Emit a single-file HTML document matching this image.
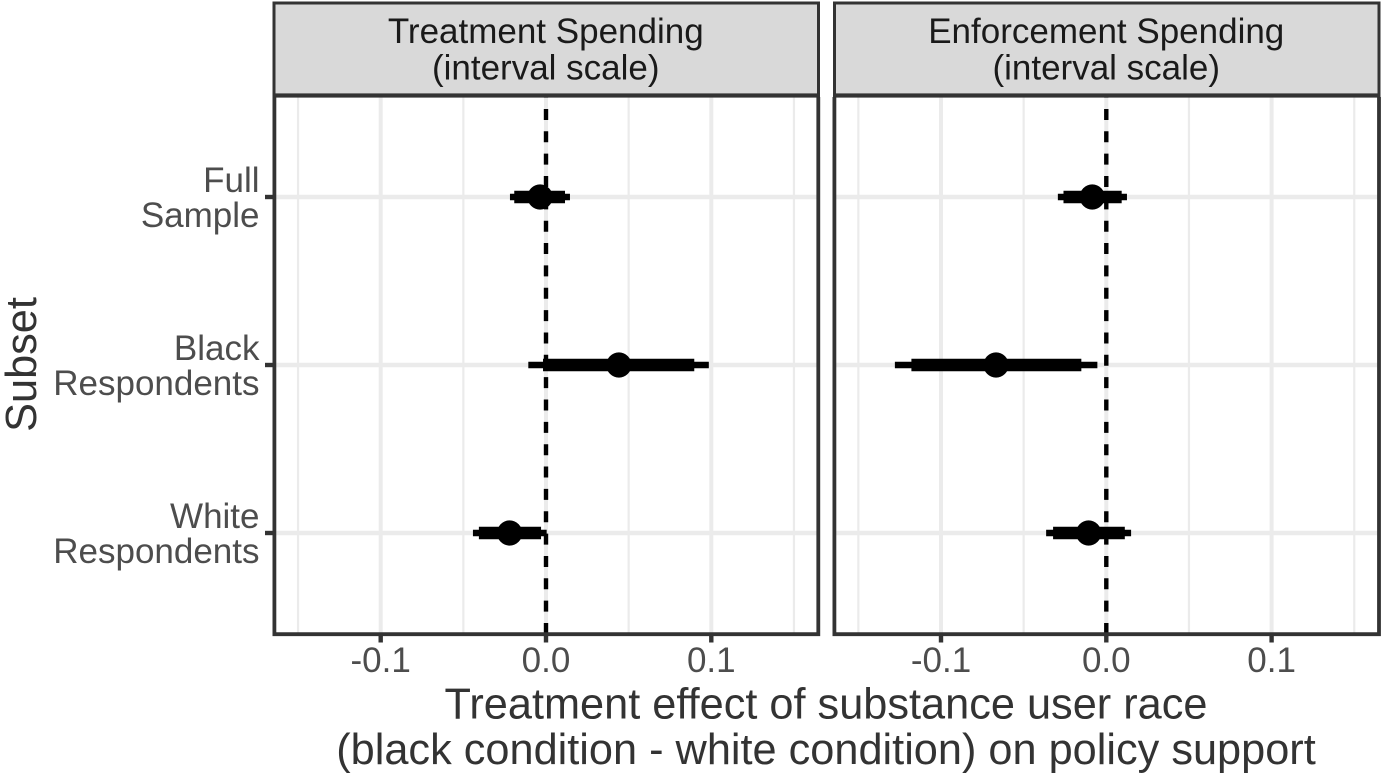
<!DOCTYPE html>
<html lang="en">
<head>
<meta charset="utf-8">
<title>Treatment effect of substance user race on policy support</title>
<style>
html,body{margin:0;padding:0;background:#fff;width:1381px;height:774px;overflow:hidden}
svg{display:block}
text{font-family:"Liberation Sans",Arial,sans-serif}
.tick{font-size:35px;fill:#4d4d4d}
.strip{font-size:35px;fill:#1a1a1a;text-anchor:middle}
.title{font-size:43.3px;fill:#333;text-anchor:middle}
</style>
</head>
<body>
<svg id="chart" xmlns="http://www.w3.org/2000/svg" width="1381" height="774" viewBox="0 0 1381 774">
  <rect x="0" y="0" width="1381" height="774" fill="#fff"/>
  <g id="panels"></g>
  <text class="title" x="826" y="718.5">Treatment effect of substance user race</text>
  <text class="title" x="826" y="764">(black condition - white condition) on policy support</text>
  <text class="title" transform="translate(36 364.5) rotate(-90)">Subset</text>
</svg>
<script>
// Chart data
const categories = [["Full", "Sample"], ["Black", "Respondents"], ["White", "Respondents"]];
const panelTitles = [["Treatment Spending", "(interval scale)"], ["Enforcement Spending", "(interval scale)"]];
const majorTicks = [-0.1, 0, 0.1];
const minorTicks = [-0.15, -0.05, 0.05, 0.15];
const tickLabels = ["-0.1", "0.0", "0.1"];
const treatmentEstimate = [-0.0036, 0.0441, -0.0220];
const treatmentOuterLow = [-0.0218, -0.0107, -0.0442];
const treatmentOuterHigh = [0.0145, 0.0985, 0.0004];
const treatmentInnerLow = [-0.0192, -0.0018, -0.0406];
const treatmentInnerHigh = [0.0115, 0.0897, -0.0030];
const enforcementEstimate = [-0.0085, -0.0667, -0.0107];
const enforcementOuterLow = [-0.0293, -0.1279, -0.0364];
const enforcementOuterHigh = [0.0125, -0.0054, 0.0150];
const enforcementInnerLow = [-0.0259, -0.1179, -0.0322];
const enforcementInnerHigh = [0.0093, -0.0151, 0.0112];

const NS = "http://www.w3.org/2000/svg";
const root = document.getElementById("panels");
const PX_PER_UNIT = 1653;
const PANEL_TOP = 97, PANEL_BOTTOM = 634;
const ROW_START = 197, ROW_STEP = 168;
const DARK = "#333333";

function yScale(i) { return ROW_START + i * ROW_STEP; }

function make(tag, attrs, parent) {
  const el = document.createElementNS(NS, tag);
  for (const k in attrs) el.setAttribute(k, attrs[k]);
  parent.appendChild(el);
  return el;
}

function drawPanel(cfg) {
  const xScale = v => cfg.zero + v * PX_PER_UNIT;
  const g = make("g", {}, root);
  
  

  // strip
  const strip = make("rect", {x: cfg.left, y: 3, width: cfg.right - cfg.left, height: 92, fill: "#d9d9d9", stroke: DARK, "stroke-width": 3}, g);
  
  
  cfg.title.forEach((line, i) => {
    const t = make("text", {class: "strip", x: (cfg.left + cfg.right) / 2 - 0.5, y: 43 + i * 36.5}, g);
    t.textContent = line;
    
    
  });

  // grid
  minorTicks.forEach(v => {
    const l = make("line", {x1: xScale(v), x2: xScale(v), y1: PANEL_TOP, y2: PANEL_BOTTOM, stroke: "#ebebeb", "stroke-width": 2.2}, g);
    
    
  });
  majorTicks.forEach(v => {
    const l = make("line", {x1: xScale(v), x2: xScale(v), y1: PANEL_TOP, y2: PANEL_BOTTOM, stroke: "#ebebeb", "stroke-width": 4}, g);
    
    
  });
  categories.forEach((c, i) => {
    const l = make("line", {x1: cfg.left, x2: cfg.right, y1: yScale(i), y2: yScale(i), stroke: "#ebebeb", "stroke-width": 4.4}, g);
    
    
  });

  // reference line at zero, dash phase counted from the panel bottom
  const ref = make("line", {x1: xScale(0), x2: xScale(0), y1: PANEL_BOTTOM, y2: PANEL_TOP, stroke: "#000", "stroke-width": 4.4, "stroke-dasharray": "11 11.35"}, g);
  
  

  // intervals and points
  categories.forEach((c, i) => {
    const y = yScale(i);
    const outer = make("line", {x1: xScale(cfg.outerLow[i]), x2: xScale(cfg.outerHigh[i]), y1: y, y2: y, stroke: "#000", "stroke-width": 6.6}, g);
    
    
    const inner = make("line", {x1: xScale(cfg.innerLow[i]), x2: xScale(cfg.innerHigh[i]), y1: y, y2: y, stroke: "#000", "stroke-width": 12.6}, g);
    
    
    const pt = make("circle", {cx: xScale(cfg.estimate[i]), cy: y, r: 12.6, fill: "#000"}, g);
    
    
  });

  // panel border
  const border = make("path", {d: cfg.borderPath, fill: "none", stroke: DARK, "stroke-width": 3.8}, g);
  
  
  const sep = make("rect", {x: cfg.left - 1.5, y: 93.4, width: cfg.right - cfg.left + 3, height: 4.2, fill: DARK}, g);
  
  

  // x ticks and labels
  majorTicks.forEach((v, i) => {
    const tk = make("line", {x1: xScale(v), x2: xScale(v), y1: 636, y2: 642.5, stroke: DARK, "stroke-width": 4.4}, g);
    
    
    const t = make("text", {class: "tick", x: xScale(v), y: 672, "text-anchor": "middle"}, g);
    t.textContent = tickLabels[i];
    
    
  });
}

drawPanel({
  name: "treatment-panel", zero: 546, left: 274, right: 818.5,
  borderPath: "M274.4 97V634.2H818.3V97",
  title: panelTitles[0], estimate: treatmentEstimate,
  outerLow: treatmentOuterLow, outerHigh: treatmentOuterHigh,
  innerLow: treatmentInnerLow, innerHigh: treatmentInnerHigh
});
drawPanel({
  name: "enforcement-panel", zero: 1106.3, left: 834.5, right: 1379,
  borderPath: "M834.4 97V634.2H1379V97",
  title: panelTitles[1], estimate: enforcementEstimate,
  outerLow: enforcementOuterLow, outerHigh: enforcementOuterHigh,
  innerLow: enforcementInnerLow, innerHigh: enforcementInnerHigh
});

// y axis ticks and labels
categories.forEach((c, i) => {
  const y = yScale(i);
  const tk = make("line", {x1: 265, x2: 273, y1: y, y2: y, stroke: DARK, "stroke-width": 4.4}, root);
  
  
  c.forEach((line, j) => {
    const t = make("text", {class: "tick", x: 259.5, y: y - 5 + j * 35, "text-anchor": "end"}, root);
    t.textContent = line;
    
    
  });
});
</script>
</body>
</html>
